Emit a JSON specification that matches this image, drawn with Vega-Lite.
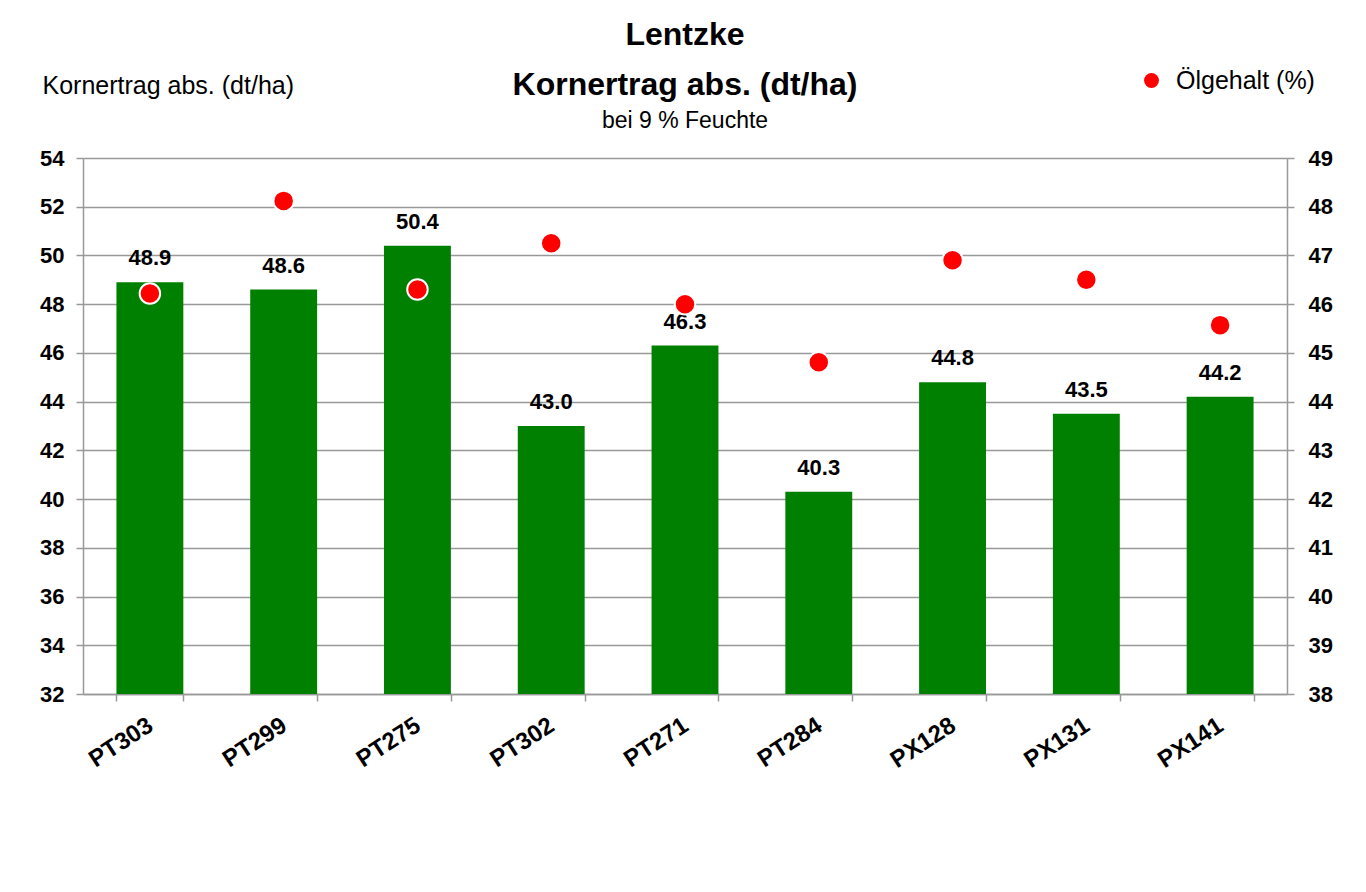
{
  "$schema": "https://vega.github.io/schema/vega-lite/v6.json",
  "width": 1204,
  "height": 536,
  "autosize": {"type": "none"},
  "padding": {"left": 83, "top": 158, "right": 79, "bottom": 198},
  "background": "white",
  "config": {
    "font": "Liberation Sans",
    "view": {"stroke": null},
    "axis": {"labelColor": "black", "domainColor": "#999999", "tickColor": "#999999", "gridColor": "#999999", "domainWidth": 1.5, "tickWidth": 1.5, "gridWidth": 1.5}
  },
  "title": {
    "text": ["Lentzke", "Kornertrag abs. (dt/ha)"],
    "subtitle": "bei 9 % Feuchte",
    "fontSize": 32,
    "fontWeight": "bold",
    "lineHeight": 50,
    "color": "black",
    "subtitleFontSize": 23,
    "subtitleColor": "black",
    "subtitlePadding": 8,
    "anchor": "middle",
    "offset": -66
  },
  "data": {
    "values": [
      {"Sorte": "PT303", "Ertrag": 48.9, "Oel": 46.22},
      {"Sorte": "PT299", "Ertrag": 48.6, "Oel": 48.12},
      {"Sorte": "PT275", "Ertrag": 50.4, "Oel": 46.3},
      {"Sorte": "PT302", "Ertrag": 43.0, "Oel": 47.25},
      {"Sorte": "PT271", "Ertrag": 46.3, "Oel": 46.0},
      {"Sorte": "PT284", "Ertrag": 40.3, "Oel": 44.81},
      {"Sorte": "PX128", "Ertrag": 44.8, "Oel": 46.9},
      {"Sorte": "PX131", "Ertrag": 43.5, "Oel": 46.5},
      {"Sorte": "PX141", "Ertrag": 44.2, "Oel": 45.57}
    ]
  },
  "encoding": {
    "x": {
      "field": "Sorte",
      "type": "nominal",
      "sort": null,
      "scale": {"paddingInner": 0.5, "paddingOuter": 0.25},
      "axis": {
        "title": null,
        "labelAngle": -33,
        "labelFontSize": 24,
        "labelFontWeight": "bold",
        "labelPadding": 12,
        "labelOffset": -6,
        "tickBand": "extent",
        "tickSize": 7
      }
    }
  },
  "layer": [
    {
      "encoding": {
        "y": {
          "field": "Ertrag",
          "type": "quantitative",
          "scale": {"domain": [32, 54], "nice": false, "zero": false},
          "axis": {
            "title": "Kornertrag abs. (dt/ha)",
            "titleAngle": 0,
            "titleX": -41,
            "titleY": -73,
            "titleAlign": "left",
            "titleBaseline": "middle",
            "titleFontSize": 25,
            "titleFontWeight": "normal",
            "titleColor": "black",
            "values": [32, 34, 36, 38, 40, 42, 44, 46, 48, 50, 52, 54],
            "labelFontSize": 22,
            "labelFontWeight": "bold",
            "labelPadding": 12,
            "tickSize": 7,
            "grid": true
          }
        }
      },
      "layer": [
        {"mark": {"type": "bar", "color": "#008000", "clip": true}},
        {
          "mark": {"type": "text", "dy": -24, "fontSize": 22, "fontWeight": "bold", "color": "black", "baseline": "middle"},
          "encoding": {"text": {"field": "Ertrag", "type": "quantitative", "format": ".1f"}}
        }
      ]
    },
    {
      "mark": {"type": "circle", "size": 420, "stroke": "white", "strokeWidth": 2, "opacity": 1},
      "encoding": {
        "y": {
          "field": "Oel",
          "type": "quantitative",
          "scale": {"domain": [38, 49], "nice": false, "zero": false},
          "axis": {
            "orient": "right",
            "title": null,
            "values": [38, 39, 40, 41, 42, 43, 44, 45, 46, 47, 48, 49],
            "labelFontSize": 22,
            "labelFontWeight": "bold",
            "labelPadding": 14,
            "tickSize": 7,
            "grid": false
          }
        },
        "color": {
          "datum": "Ölgehalt (%)",
          "type": "nominal",
          "scale": {"range": ["#ff0000"]},
          "legend": {
            "title": null,
            "orient": "none",
            "legendX": 1056,
            "legendY": -90,
            "padding": 0,
            "symbolSize": 220,
            "symbolStrokeWidth": 0,
            "labelFontSize": 25,
            "labelColor": "black",
            "labelOffset": 12,
            "labelFont": "Liberation Sans"
          }
        }
      }
    }
  ],
  "resolve": {"scale": {"y": "independent"}}
}
